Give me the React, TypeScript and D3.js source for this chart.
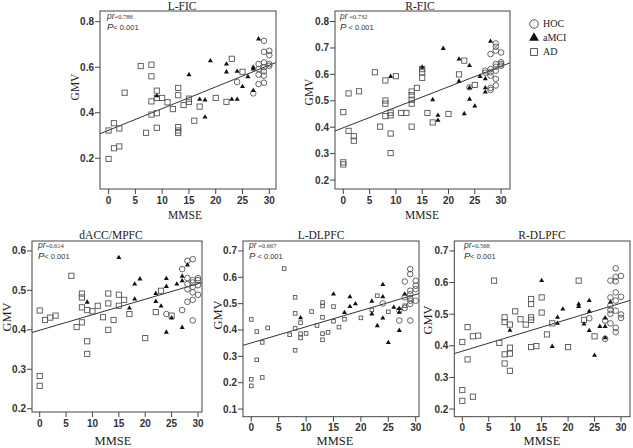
import React from "react";
import * as d3 from "d3";

type Pt = [number, number];

const mmseTicks = [0, 5, 10, 15, 20, 25, 30];

// ---------- L-FIC ----------
const lficHOC: Pt[] = [[24,0.535],[27,0.485],[28,0.526],[28,0.567],[28,0.592],[28,0.614],[29,0.716],[29,0.668],[29,0.621],[29,0.6],[29,0.582],[29,0.563],[29,0.532],[30,0.672],[30,0.653],[30,0.614],[30,0.606]];
const lficMCI: Pt[] = [[9,0.474],[15,0.567],[17,0.459],[18,0.456],[18,0.381],[19,0.628],[22,0.614],[22,0.579],[23,0.459],[24,0.459],[24,0.582],[25,0.515],[26,0.558],[27,0.497],[27,0.592],[27,0.6],[28,0.724]];
const lficAD: Pt[] = [[0,0.197],[0,0.322],[1,0.354],[1,0.244],[2,0.331],[2,0.252],[3,0.488],[6,0.605],[7,0.312],[8,0.611],[8,0.56],[8,0.45],[8,0.392],[9,0.497],[9,0.465],[9,0.398],[9,0.334],[10,0.465],[11,0.446],[12,0.416],[13,0.509],[13,0.477],[13,0.337],[13,0.322],[13,0.311],[14,0.434],[15,0.462],[15,0.448],[16,0.365],[17,0.427],[20,0.465],[22,0.448],[23,0.637],[25,0.58]];
const lficFit = [0.323, 0.00953];
const lficYTicks = [0.2, 0.4, 0.6, 0.8];

// ---------- R-FIC ----------
const rficHOC: Pt[] = [[24,0.551],[27,0.614],[27,0.606],[28,0.677],[28,0.62],[28,0.608],[28,0.595],[28,0.549],[28,0.541],[29,0.717],[29,0.705],[29,0.69],[29,0.639],[29,0.629],[29,0.614],[29,0.583],[29,0.558],[30,0.683],[30,0.646],[30,0.639],[30,0.633]];
const rficMCI: Pt[] = [[9,0.592],[15,0.627],[17,0.504],[18,0.445],[18,0.426],[19,0.698],[22,0.658],[22,0.574],[23,0.451],[24,0.633],[24,0.506],[24,0.549],[25,0.48],[26,0.592],[27,0.583],[27,0.549],[27,0.533],[28,0.725]];
const rficAD: Pt[] = [[0,0.457],[0,0.267],[0,0.259],[1,0.528],[1,0.386],[2,0.366],[2,0.349],[3,0.536],[6,0.608],[7,0.402],[8,0.577],[8,0.501],[8,0.489],[8,0.442],[9,0.455],[9,0.445],[9,0.376],[9,0.302],[10,0.593],[11,0.454],[12,0.454],[13,0.535],[13,0.521],[13,0.504],[13,0.489],[13,0.402],[14,0.549],[15,0.62],[15,0.608],[15,0.587],[16,0.454],[17,0.418],[20,0.45],[22,0.6],[23,0.652],[25,0.56]];
const rficFit = [0.398, 0.00775];
const rficYTicks = [0.2, 0.3, 0.4, 0.5, 0.6, 0.7, 0.8];

// ---------- dACC/MPFC ----------
const daccHOC: Pt[] = [[24,0.44],[27,0.554],[27,0.45],[28,0.575],[28,0.531],[28,0.516],[28,0.503],[28,0.471],[29,0.579],[29,0.526],[29,0.52],[29,0.509],[29,0.495],[29,0.476],[29,0.424],[30,0.531],[30,0.526],[30,0.513],[30,0.489]];
const daccMCI: Pt[] = [[9,0.47],[15,0.583],[17,0.455],[18,0.516],[18,0.478],[19,0.529],[22,0.492],[22,0.472],[23,0.46],[24,0.53],[24,0.51],[24,0.394],[25,0.43],[26,0.516],[27,0.536],[27,0.524],[27,0.406],[28,0.564]];
const daccAD: Pt[] = [[0,0.449],[0,0.283],[0,0.258],[1,0.425],[2,0.431],[3,0.436],[6,0.537],[7,0.407],[8,0.492],[8,0.482],[8,0.457],[8,0.419],[9,0.45],[9,0.371],[9,0.339],[10,0.447],[11,0.461],[12,0.432],[13,0.492],[13,0.467],[13,0.4],[14,0.425],[15,0.489],[15,0.461],[16,0.476],[17,0.44],[20,0.379],[22,0.445],[23,0.499],[25,0.436]];
const daccFit = [0.399, 0.00393];
const daccYTicks = [0.2, 0.3, 0.4, 0.5, 0.6];

// ---------- L-DLPFC ----------
const ldlHOC: Pt[] = [[24,0.501],[27,0.474],[27,0.436],[28,0.584],[28,0.524],[28,0.484],[29,0.631],[29,0.612],[29,0.549],[29,0.536],[29,0.521],[29,0.511],[29,0.499],[29,0.436],[30,0.587],[30,0.568],[30,0.555],[30,0.511]];
const ldlMCI: Pt[] = [[9,0.446],[15,0.536],[17,0.466],[18,0.526],[18,0.489],[19,0.499],[22,0.509],[22,0.461],[23,0.416],[24,0.572],[24,0.526],[24,0.445],[25,0.352],[26,0.486],[27,0.481],[27,0.467],[27,0.398],[28,0.536]];
const ldlAD: Pt[] = [[0,0.44],[0,0.213],[0,0.188],[1,0.394],[1,0.287],[2,0.353],[2,0.22],[3,0.408],[6,0.633],[7,0.382],[8,0.524],[8,0.463],[8,0.406],[8,0.323],[9,0.428],[9,0.386],[9,0.37],[10,0.387],[11,0.47],[12,0.417],[13,0.504],[13,0.491],[13,0.448],[13,0.386],[13,0.363],[14,0.391],[15,0.489],[15,0.433],[16,0.411],[17,0.441],[20,0.446],[22,0.476],[23,0.53],[25,0.469],[28,0.492]];
const ldlFit = [0.351, 0.00612];
const ldlYTicks = [0.1, 0.2, 0.3, 0.4, 0.5, 0.6, 0.7];

// ---------- R-DLPFC ----------
const rdlHOC: Pt[] = [[24,0.487],[27,0.48],[27,0.422],[28,0.606],[28,0.553],[28,0.527],[28,0.513],[28,0.501],[28,0.471],[29,0.645],[29,0.618],[29,0.604],[29,0.569],[29,0.543],[29,0.511],[29,0.457],[29,0.443],[30,0.621],[30,0.555],[30,0.499],[30,0.488]];
const rdlMCI: Pt[] = [[9,0.449],[15,0.606],[17,0.398],[18,0.49],[18,0.471],[19,0.516],[22,0.532],[22,0.524],[23,0.469],[24,0.543],[24,0.509],[24,0.448],[25,0.37],[26,0.461],[27,0.488],[27,0.461],[27,0.425],[28,0.538]];
const rdlAD: Pt[] = [[0,0.412],[0,0.26],[0,0.226],[1,0.459],[1,0.357],[2,0.43],[2,0.239],[3,0.432],[6,0.606],[7,0.409],[8,0.49],[8,0.475],[8,0.373],[8,0.344],[9,0.467],[9,0.394],[9,0.375],[9,0.321],[10,0.509],[11,0.484],[12,0.467],[13,0.548],[13,0.532],[13,0.49],[13,0.482],[13,0.396],[14,0.399],[15,0.553],[15,0.505],[16,0.436],[17,0.471],[20,0.396],[22,0.606],[23,0.482],[25,0.43]];
const rdlFit = [0.383, 0.00506];
const rdlYTicks = [0.2, 0.3, 0.4, 0.5, 0.6, 0.7];

const titles = ["L-FIC", "R-FIC", "dACC/MPFC", "L-DLPFC", "R-DLPFC"];
const prValues = ["=0.788", " =0.732", "=0.614", " =0.667", "=0.568"];
const pValues = ["< 0.001", " <  0.001", "< 0.001", " <  0.001", "< 0.001"];
const legendLabels = ["HOC", "aMCI", "AD"];

const SERIF = "'Liberation Serif', 'Times New Roman', serif";
const SANS = "'Liberation Sans', Arial, sans-serif";

interface Layout {
  left: number; right: number; top: number; bottom: number;
  xDom: [number, number]; yDom: [number, number];
  titleX: number; titleY: number;
  gmvX: number; gmvY: number;
  mmseX: number; mmseY: number; tickY: number;
  annX: number; annY: number;
  labelSize: number; sq: number;
}

const layouts: Layout[] = [
  { left: 100, right: 276, top: 11, bottom: 189, xDom: [-1.6, 31.25], yDom: [0.065, 0.847], titleX: 182, titleY: 10, gmvX: 75, gmvY: 87, mmseX: 185, mmseY: 219, tickY: 204, annX: 107, annY: 19, labelSize: 11.5, sq: 5.2 },
  { left: 335, right: 510, top: 11, bottom: 189, xDom: [-1.58, 31.7], yDom: [0.166, 0.84], titleX: 420, titleY: 10, gmvX: 309, gmvY: 92, mmseX: 422, mmseY: 219, tickY: 204, annX: 340, annY: 19, labelSize: 11.5, sq: 5.2 },
  { left: 32, right: 202, top: 241, bottom: 412, xDom: [-1.46, 30.76], yDom: [0.1917, 0.6252], titleX: 111, titleY: 239, gmvX: 7, gmvY: 317, mmseX: 113, mmseY: 445, tickY: 427, annX: 38, annY: 248, labelSize: 12.5, sq: 5.2 },
  { left: 243, right: 419, top: 241, bottom: 416.7, xDom: [-1.51, 30.6], yDom: [0.071, 0.7377], titleX: 321, titleY: 239, gmvX: 218, gmvY: 315, mmseX: 335, mmseY: 445, tickY: 431, annX: 249, annY: 248, labelSize: 12.5, sq: 3.6 },
  { left: 454.3, right: 630, top: 241, bottom: 416.7, xDom: [-1.51, 31.7], yDom: [0.1758, 0.7314], titleX: 542, titleY: 239, gmvX: 428, gmvY: 320, mmseX: 542, mmseY: 445, tickY: 431, annX: 464, annY: 248, labelSize: 12.5, sq: 5.2 },
];

const panelData = [
  { hoc: lficHOC, mci: lficMCI, ad: lficAD, fit: lficFit, yTicks: lficYTicks },
  { hoc: rficHOC, mci: rficMCI, ad: rficAD, fit: rficFit, yTicks: rficYTicks },
  { hoc: daccHOC, mci: daccMCI, ad: daccAD, fit: daccFit, yTicks: daccYTicks },
  { hoc: ldlHOC, mci: ldlMCI, ad: ldlAD, fit: ldlFit, yTicks: ldlYTicks },
  { hoc: rdlHOC, mci: rdlMCI, ad: rdlAD, fit: rdlFit, yTicks: rdlYTicks },
];

const triSmall = d3.symbol(d3.symbolTriangle, 11)() as string;
const triLegend = d3.symbol(d3.symbolTriangle, 42)() as string;

function Panel({ idx }: { idx: number }) {
  const L = layouts[idx];
  const D = panelData[idx];
  const x = d3.scaleLinear().domain(L.xDom).range([L.left, L.right]);
  const y = d3.scaleLinear().domain(L.yDom).range([L.bottom, L.top]);
  const [a, b] = D.fit;
  const lineGen = d3.line<number>().x((v) => x(v)).y((v) => y(a + b * v));
  const clipId = `clip${idx}`;
  const fmt = d3.format(".1f");
  const s = L.sq;
  return (
    <g>
      <defs>
        <clipPath id={clipId}>
          <rect x={L.left} y={L.top} width={L.right - L.left} height={L.bottom - L.top} />
        </clipPath>
      </defs>
      <text x={L.titleX} y={L.titleY} textAnchor="middle" fontFamily={SERIF} fontSize={11.5} fill="#222">{titles[idx]}</text>
      <rect x={L.left} y={L.top} width={L.right - L.left} height={L.bottom - L.top} fill="white" stroke="#444" strokeWidth={1} />
      {D.yTicks.map((t) => (
        <g key={"y" + t}>
          <line x1={L.left - 5} x2={L.left} y1={y(t)} y2={y(t)} stroke="#444" />
          <text x={L.left - 6} y={y(t) + 3.5} textAnchor="end" fontFamily={SANS} fontWeight="bold" fontSize={10} fill="#333">{fmt(t)}</text>
        </g>
      ))}
      {mmseTicks.map((t) => (
        <g key={"x" + t}>
          <line x1={x(t)} x2={x(t)} y1={L.bottom} y2={L.bottom + 5} stroke="#444" />
          <text x={x(t)} y={L.tickY} textAnchor="middle" fontFamily={SANS} fontWeight="bold" fontSize={10} fill="#333">{t}</text>
        </g>
      ))}
      <text transform={`translate(${L.gmvX},${L.gmvY}) rotate(-90)`} textAnchor="middle" dy="0.35em" fontFamily={SERIF} fontSize={L.labelSize} fill="#222">GMV</text>
      <text x={L.mmseX} y={L.mmseY} textAnchor="middle" fontFamily={SERIF} fontSize={L.labelSize} fill="#222">MMSE</text>
      <g clipPath={`url(#${clipId})`}>
        <path d={lineGen([L.xDom[0], L.xDom[1]]) as string} fill="none" stroke="#333" strokeWidth={1} />
        {D.ad.map((p, i) => (
          <rect key={"a" + i} x={x(p[0]) - s / 2} y={y(p[1]) - s / 2} width={s} height={s} fill="none" stroke="#555" strokeWidth={0.9} />
        ))}
        {D.hoc.map((p, i) => (
          <circle key={"h" + i} cx={x(p[0])} cy={y(p[1])} r={2.8} fill="none" stroke="#555" strokeWidth={0.9} />
        ))}
        {D.mci.map((p, i) => (
          <path key={"m" + i} d={triSmall} transform={`translate(${x(p[0])},${y(p[1])})`} fill="#111" />
        ))}
      </g>
      <text x={L.annX} y={L.annY} fontFamily={SANS} fill="#333">
        <tspan fontStyle="italic" fontSize={8.5}>pr</tspan>
        <tspan fontFamily={SERIF} fontSize={6.5}>{prValues[idx]}</tspan>
      </text>
      <text x={L.annX} y={L.annY + 11} fontFamily={SANS} fill="#333">
        <tspan fontStyle="italic" fontSize={9.5}>P</tspan>
        <tspan fontSize={7.5}>{pValues[idx]}</tspan>
      </text>
    </g>
  );
}

function Legend() {
  const lx = 534;
  const ys = [24, 38, 52];
  return (
    <g>
      <circle cx={lx} cy={ys[0]} r={4.3} fill="none" stroke="#444" strokeWidth={0.9} />
      <path d={triLegend} transform={`translate(${lx},${ys[1]})`} fill="#111" />
      <rect x={lx - 3.4} y={ys[2] - 3.4} width={6.8} height={6.8} fill="none" stroke="#444" strokeWidth={0.9} />
      {legendLabels.map((t, i) => (
        <text key={t} x={543} y={ys[i] + 3.4} fontFamily={SERIF} fontSize={10} fill="#222">{t}</text>
      ))}
    </g>
  );
}

export default function App() {
  return (
    <svg width={633} height={448} style={{ position: "absolute", left: 0, top: 0, background: "white" }}>
      <rect x={0} y={0} width={633} height={448} fill="white" />
      {layouts.map((_, i) => (
        <Panel key={i} idx={i} />
      ))}
      <Legend />
    </svg>
  );
}
